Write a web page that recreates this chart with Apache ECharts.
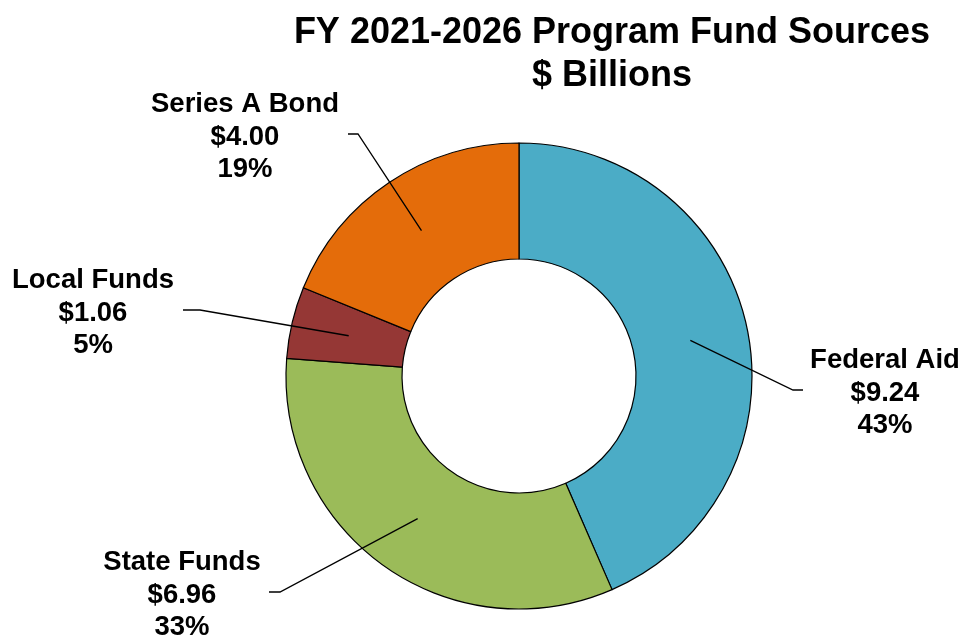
<!DOCTYPE html>
<html>
<head>
<meta charset="utf-8">
<script src="https://cdn.jsdelivr.net/npm/echarts@6/dist/echarts.min.js"></script>
<style>html,body{margin:0;padding:0;background:#fff}#c{width:964px;height:641px}</style>
</head>
<body>
<div id="c"></div>
<script>
const categories = ['Federal Aid', 'State Funds', 'Local Funds', 'Series A Bond'];
const values = [9.24, 6.96, 1.06, 4.00];
const colors = ['#4BACC6', '#9BBB59', '#953735', '#E46C0A'];
// label layout: [labelCenterX, labelMiddleY, elbowX, elbowY, endX]
const labelSpots = [
  [885, 393, 793, 390, 803],
  [182, 595, 280, 592, 269],
  [93, 313, 200, 310, 183],
  [245, 137, 358, 134, 348]
];
const CX = 519, CY = 376, R_IN = 117, R_OUT = 233;

const total = values.reduce((a, b) => a + b, 0);
const midAngles = [];
let acc = 0;
values.forEach(v => { midAngles.push((acc + v / 2) / total * 2 * Math.PI); acc += v; });

const font = 'Liberation Sans, Arial, sans-serif';
const pieBase = {
  type: 'pie',
  center: [CX, CY],
  radius: [R_IN, R_OUT],
  startAngle: 90,
  clockwise: true,
  percentPrecision: 0,
  silent: true,
  emphasis: { disabled: true }
};

const chart = echarts.init(document.getElementById('c'));
chart.setOption({
  backgroundColor: '#fff',
  animation: false,
  title: {
    text: 'FY 2021-2026 Program Fund Sources\n$ Billions',
    left: 607, top: 7, textAlign: 'center',
    textStyle: { fontFamily: font, fontWeight: 'bold', fontSize: 36, lineHeight: 43, color: '#000' }
  },
  series: [
    Object.assign({}, pieBase, {
      z: 2,
      data: categories.map((n, i) => ({ name: n, value: values[i], itemStyle: { color: colors[i] } })),
      itemStyle: { borderColor: '#000', borderWidth: 1.2 },
      label: { show: false },
      labelLine: { show: false }
    }),
    Object.assign({}, pieBase, {
      z: 5,
      data: categories.map((n, i) => ({ name: n, value: values[i] })),
      itemStyle: { color: 'rgba(0,0,0,0)', borderWidth: 0 },
      label: {
        show: true,
        position: 'outside',
        formatter: p => p.name + '\n$' + p.value.toFixed(2) + '\n' + p.percent + '%',
        fontFamily: font,
        fontWeight: 'bold', fontSize: 27.5, lineHeight: 32.5, color: '#000', align: 'center'
      },
      labelLine: { show: true, lineStyle: { color: '#000', width: 1.3 } },
      labelLayout: function (params) {
        const i = params.dataIndex;
        const s = labelSpots[i];
        const a = midAngles[i];
        const rm = (R_IN + R_OUT) / 2;
        const sx = CX + rm * Math.sin(a), sy = CY - rm * Math.cos(a);
        return {
          x: s[0], y: s[1], align: 'center', verticalAlign: 'middle',
          labelLinePoints: [[sx, sy], [s[2], s[3]], [s[4], s[3]]]
        };
      }
    })
  ]
});
</script>
</body>
</html>
